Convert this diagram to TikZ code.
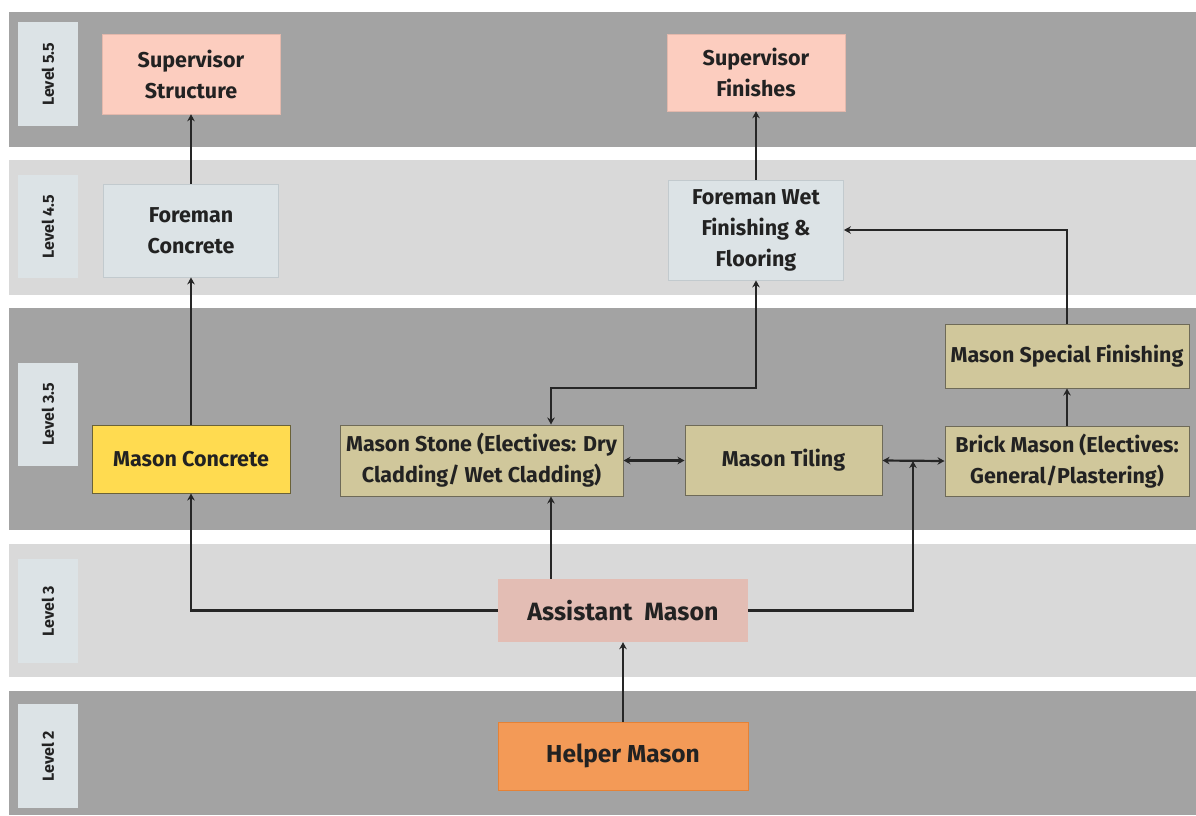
\documentclass[tikz,border=0pt]{standalone}
\usepackage{fontspec}
\setmainfont{Fira Sans}
\usetikzlibrary{arrows.meta,calc}
\definecolor{banddark}{HTML}{A3A3A3}
\definecolor{bandlight}{HTML}{D9D9D9}
\definecolor{lvlbox}{HTML}{DCE3E6}
\definecolor{supfill}{HTML}{FCCDBF}
\definecolor{forefill}{HTML}{DCE3E6}
\definecolor{foredraw}{HTML}{C2CACE}
\definecolor{khaki}{HTML}{D0C79B}
\definecolor{khakidraw}{HTML}{6E6A58}
\definecolor{yellowfill}{HTML}{FFDB50}
\definecolor{yellowdraw}{HTML}{6A6238}
\definecolor{asstfill}{HTML}{E3BDB4}
\definecolor{helpfill}{HTML}{F39A57}
\definecolor{helpdraw}{HTML}{E58236}
\definecolor{txt}{HTML}{222222}
\tikzset{
  box/.style={rectangle, inner sep=1pt, align=center, text=txt,
    font=\bfseries\fontsize{21.5}{31}\selectfont},
  supbox/.style={box, fill=supfill, draw=supfill!90!black, line width=0.5pt},
  forebox/.style={box, fill=forefill, draw=foredraw, line width=0.8pt},
  masonbox/.style={box, fill=khaki, draw=khakidraw, line width=1pt},
  lvl/.style={rectangle, fill=lvlbox, minimum height=60pt, text=txt,
    font=\bfseries\fontsize{16}{18}\selectfont, rotate=90},
  arr/.style={draw=black!85, line width=2.2pt, -{Stealth[length=7pt,width=7.5pt]}},
  dbl/.style={draw=black!85, line width=2.2pt, {Stealth[length=7pt,width=7.5pt]}-{Stealth[length=7pt,width=7.5pt]}},
}
\begin{document}
\begin{tikzpicture}[x=1pt,y=-1pt]
\useasboundingbox (0,0) rectangle (1196,815);
\fill[white] (0,0) rectangle (1196,815);
% bands
\fill[banddark]  (9,12)  rectangle (1196,147);
\fill[bandlight] (9,160) rectangle (1196,295);
\fill[banddark]  (9,308) rectangle (1196,530);
\fill[bandlight] (9,544) rectangle (1196,677);
\fill[banddark]  (9,691) rectangle (1196,815);
% level labels
\node[lvl, minimum width=104pt] (l55) at (48,74)  {Level 5.5};
\node[lvl, minimum width=103pt] (l45) at (48,226.5) {Level 4.5};
\node[lvl, minimum width=103pt] (l35) at (48,414.5) {Level 3.5};
\node[lvl, minimum width=104pt] (l3)  at (48,611) {Level 3};
\node[lvl, minimum width=104pt] (l2)  at (48,756) {Level 2};
% nodes
\node[supbox, minimum width=178pt, minimum height=80pt] (ss) at (191,74) {Supervisor\\Structure};
\node[forebox, minimum width=175pt, minimum height=93pt] (fc) at (191,230.5) {Foreman\\Concrete};
\node[supbox, minimum width=178pt, minimum height=77pt] (sf) at (756,72.5) {Supervisor\\Finishes};
\node[forebox, minimum width=175pt, minimum height=100pt] (fw) at (756,230) {Foreman Wet\\Finishing \&\\Flooring};
\node[masonbox, minimum width=244pt, minimum height=64pt] (msf) at (1067,356) {Mason Special Finishing};
\node[masonbox, minimum width=244pt, minimum height=70pt] (bm) at (1067,461) {Brick Mason (Electives:\\General/Plastering)};
\node[masonbox, minimum width=283pt, minimum height=71pt] (ms) at (481.5,460.5) {Mason Stone (Electives: Dry\\Cladding/ Wet Cladding)};
\node[masonbox, minimum width=197pt, minimum height=70pt] (mt) at (783.5,460.5) {Mason Tiling};
\node[box, fill=yellowfill, draw=yellowdraw, line width=1pt, minimum width=198pt, minimum height=68pt] (mc) at (191,459) {Mason Concrete};
\node[box, fill=asstfill, minimum width=250pt, minimum height=63pt, font=\bfseries\fontsize{25}{28}\selectfont] (am) at (623,610.5) {Assistant\ \ Mason};
\node[box, fill=helpfill, draw=helpdraw, line width=1pt, minimum width=250pt, minimum height=68pt, font=\bfseries\fontsize{24.5}{28}\selectfont] (hm) at (623,756) {Helper Mason};
% junction coordinates
\coordinate (j1) at (551,388);
\coordinate (j2) at (913,461);
% connectors
\draw[arr] (fc) -- (ss);
\draw[arr] (mc) -- (fc);
\draw[arr] (fw) -- (sf);
\draw[dbl] (ms.north -| j1) -- (j1) -| (fw.south);
\draw[arr] (msf.north) |- (fw.east);
\draw[arr] (bm) -- (msf);
\draw[dbl] (ms.east) -- (mt.west);
\draw[dbl] (mt.east) -- (bm.west);
\draw[arr] (am.east) -| (j2);
\draw[arr] (am.north -| j1) -- (ms.south -| j1);
\draw[arr] (am.west) -| (mc.south);
\draw[arr] (hm) -- (am);
\end{tikzpicture}
\end{document}
